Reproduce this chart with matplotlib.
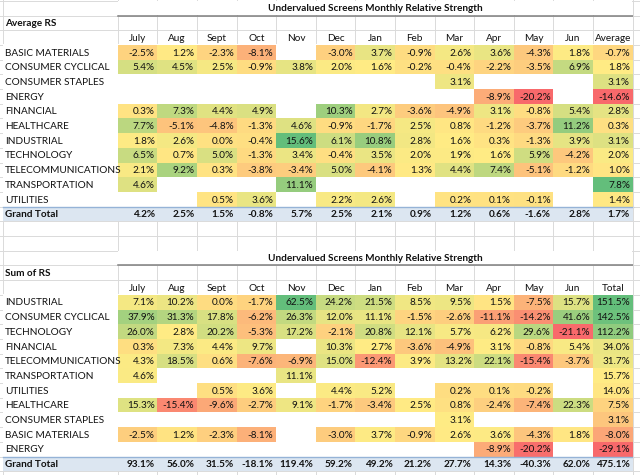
import matplotlib
matplotlib.use("Agg")
import matplotlib.pyplot as plt
from matplotlib.patches import Rectangle
import numpy as np

plt.rcParams['font.family'] = ['Lato', 'DejaVu Sans']

N = None
months = ['July', 'Aug', 'Sept', 'Oct', 'Nov', 'Dec', 'Jan', 'Feb', 'Mar', 'Apr', 'May', 'Jun']
title = 'Undervalued Screens Monthly Relative Strength'

# top table: average RS per sector
avg_sectors = ['BASIC MATERIALS', 'CONSUMER CYCLICAL', 'CONSUMER STAPLES', 'ENERGY', 'FINANCIAL',
               'HEALTHCARE', 'INDUSTRIAL', 'TECHNOLOGY', 'TELECOMMUNICATIONS', 'TRANSPORTATION',
               'UTILITIES']
avg_values = [
    [-2.5, 1.2, -2.3, -8.1, N, -3.0, 3.7, -0.9, 2.6, 3.6, -4.3, 1.8],
    [5.4, 4.5, 2.5, -0.9, 3.8, 2.0, 1.6, -0.2, -0.4, -2.2, -3.5, 6.9],
    [N, N, N, N, N, N, N, N, 3.1, N, N, N],
    [N, N, N, N, N, N, N, N, N, -8.9, -20.2, N],
    [0.3, 7.3, 4.4, 4.9, N, 10.3, 2.7, -3.6, -4.9, 3.1, -0.8, 5.4],
    [7.7, -5.1, -4.8, -1.3, 4.6, -0.9, -1.7, 2.5, 0.8, -1.2, -3.7, 11.2],
    [1.8, 2.6, 0.0, -0.4, 15.6, 6.1, 10.8, 2.8, 1.6, 0.3, -1.3, 3.9],
    [6.5, 0.7, 5.0, -1.3, 3.4, -0.4, 3.5, 2.0, 1.9, 1.6, 5.9, -4.2],
    [2.1, 9.2, 0.3, -3.8, -3.4, 5.0, -4.1, 1.3, 4.4, 7.4, -5.1, -1.2],
    [4.6, N, N, N, 11.1, N, N, N, N, N, N, N],
    [N, N, 0.5, 3.6, N, 2.2, 2.6, N, 0.2, 0.1, -0.1, N],
]
avg_average = [-0.7, 1.8, 3.1, -14.6, 2.8, 0.3, 3.1, 2.0, 1.0, 7.8, 1.4]
avg_grand = [4.2, 2.5, 1.5, -0.8, 5.7, 2.5, 2.1, 0.9, 1.2, 0.6, -1.6, 2.8]
avg_grand_last = 1.7

# bottom table: sum of RS per sector
sum_sectors = ['INDUSTRIAL', 'CONSUMER CYCLICAL', 'TECHNOLOGY', 'FINANCIAL', 'TELECOMMUNICATIONS',
               'TRANSPORTATION', 'UTILITIES', 'HEALTHCARE', 'CONSUMER STAPLES', 'BASIC MATERIALS',
               'ENERGY']
sum_values = [
    [7.1, 10.2, 0.0, -1.7, 62.5, 24.2, 21.5, 8.5, 9.5, 1.5, -7.5, 15.7],
    [37.9, 31.3, 17.8, -6.2, 26.3, 12.0, 11.1, -1.5, -2.6, -11.1, -14.2, 41.6],
    [26.0, 2.8, 20.2, -5.3, 17.2, -2.1, 20.8, 12.1, 5.7, 6.2, 29.6, -21.1],
    [0.3, 7.3, 4.4, 9.7, N, 10.3, 2.7, -3.6, -4.9, 3.1, -0.8, 5.4],
    [4.3, 18.5, 0.6, -7.6, -6.9, 15.0, -12.4, 3.9, 13.2, 22.1, -15.4, -3.7],
    [4.6, N, N, N, 11.1, N, N, N, N, N, N, N],
    [N, N, 0.5, 3.6, N, 4.4, 5.2, N, 0.2, 0.1, -0.2, N],
    [15.3, -15.4, -9.6, -2.7, 9.1, -1.7, -3.4, 2.5, 0.8, -2.4, -7.4, 22.3],
    [N, N, N, N, N, N, N, N, 3.1, N, N, N],
    [-2.5, 1.2, -2.3, -8.1, N, -3.0, 3.7, -0.9, 2.6, 3.6, -4.3, 1.8],
    [N, N, N, N, N, N, N, N, N, -8.9, -20.2, N],
]
sum_total = [151.5, 142.5, 112.2, 34.0, 31.7, 15.7, 14.0, 7.5, 3.1, -8.0, -29.1]
sum_grand = [93.1, 56.0, 31.5, -18.1, 119.4, 59.2, 49.2, 21.2, 27.7, 14.3, -40.3, 62.0]
sum_grand_last = 475.1

# sheet geometry (pixels)
W, H = 640, 475
x_a = 2.5
x_data = 117.7
col_w = 39.6
row0 = 0.8
row_h = 14.7
n_rows = 33
col_edges = x_data + col_w * np.arange(14)
x_end = col_edges[-1]

grid_c = '#DADADA'
txt_c = '#111111'
fs = 7.2
dy = 0.8  # matplotlib centres the full text box, nudge it down a bit

LOW = np.array([248, 105, 107]) / 255
MID = np.array([255, 235, 132]) / 255
HIGH = np.array([99, 190, 123]) / 255


def color_scale(vals):
    arr = np.array([v for v in vals if v is not None], dtype=float)
    lo, hi, mid = arr.min(), arr.max(), np.percentile(arr, 50)

    def f(v):
        if v <= mid:
            t = 0 if mid == lo else (v - lo) / (mid - lo)
            return LOW + t * (MID - LOW)
        t = 0 if hi == mid else (v - mid) / (hi - mid)
        return MID + t * (HIGH - MID)
    return f


def top(r):
    return row0 + r * row_h


def mid_y(r):
    return top(r) + row_h / 2 + dy


fig = plt.figure(figsize=(W / 100, H / 100), dpi=100)
ax = fig.add_axes([0, 0, 1, 1])
ax.set_xlim(0, W)
ax.set_ylim(H, 0)
ax.axis('off')

# sheet gridlines
for r in range(n_rows + 1):
    ax.plot([0, W], [top(r), top(r)], color=grid_c, lw=0.7, zorder=1)
for x in [x_a] + list(col_edges) + [x_end + col_w]:
    ax.plot([x, x], [0, H], color=grid_c, lw=0.7, zorder=1)


def fmt(v):
    return '%.1f%%' % v


def draw_table(r0, caption, last_head, sectors, values, last_col, grand, grand_last):
    # merged title cell
    ax.add_patch(Rectangle((x_data + 0.4, top(r0) + 0.4), x_end - x_data - 0.8, row_h - 0.8,
                           facecolor='white', edgecolor='none', zorder=2))
    ax.text((x_data + x_end) / 2, mid_y(r0), title, ha='center', va='center',
            fontsize=fs, fontweight='bold', color=txt_c, zorder=5)
    ax.plot([x_data, x_end], [top(r0 + 1), top(r0 + 1)], color='#7F7F7F', lw=1.1, zorder=3)
    ax.text(5, mid_y(r0 + 1), caption, ha='left', va='center', fontsize=fs,
            fontweight='bold', color=txt_c, zorder=5)
    for j, m in enumerate(months + [last_head]):
        ax.text(col_edges[j] + col_w / 2, mid_y(r0 + 2), m, ha='center', va='center',
                fontsize=fs, color=txt_c, zorder=5)
    # pivot body: white, no gridlines
    r_body = r0 + 3
    n = len(sectors)
    ax.add_patch(Rectangle((x_a, top(r_body) - 0.5), x_end - x_a - 0.4, row_h * (n + 1) + 0.5,
                           facecolor='white', edgecolor='none', zorder=2))
    f_main = color_scale([v for row in values for v in row])
    f_last = color_scale(last_col)
    for i, (name, row) in enumerate(zip(sectors, values)):
        r = r_body + i
        ax.text(5, mid_y(r), name, ha='left', va='center', fontsize=fs, color=txt_c, zorder=5)
        for j, v in enumerate(list(row) + [last_col[i]]):
            if v is None:
                continue
            fc = f_last(v) if j == 12 else f_main(v)
            ax.add_patch(Rectangle((col_edges[j], top(r)), col_w, row_h,
                                   facecolor=fc, edgecolor='none', zorder=3))
            ax.text(col_edges[j + 1] - 2.5, mid_y(r), fmt(v), ha='right', va='center',
                    fontsize=fs, color=txt_c, zorder=5)
    # grand total row
    rg = r_body + n
    ax.add_patch(Rectangle((x_a + 0.5, top(rg)), x_end - x_a - 0.5, row_h,
                           facecolor='#DCE6F1', edgecolor='none', zorder=3))
    ax.plot([x_a + 0.5, x_end], [top(rg), top(rg)], color='#95B3D7', lw=1.0, zorder=4)
    ax.text(5, mid_y(rg), 'Grand Total', ha='left', va='center', fontsize=fs,
            fontweight='bold', color=txt_c, zorder=5)
    for j, v in enumerate(list(grand) + [grand_last]):
        ax.text(col_edges[j + 1] - 2.5, mid_y(rg), fmt(v), ha='right', va='center',
                fontsize=fs, fontweight='bold', color=txt_c, zorder=5)


draw_table(0, 'Average RS', 'Average', avg_sectors, avg_values, avg_average, avg_grand, avg_grand_last)
draw_table(17, 'Sum of RS', 'Total', sum_sectors, sum_values, sum_total, sum_grand, sum_grand_last)

ax.plot([x_end, x_end], [0, H], color=grid_c, lw=0.7, zorder=4)

fig.savefig('out.png', dpi=100)
